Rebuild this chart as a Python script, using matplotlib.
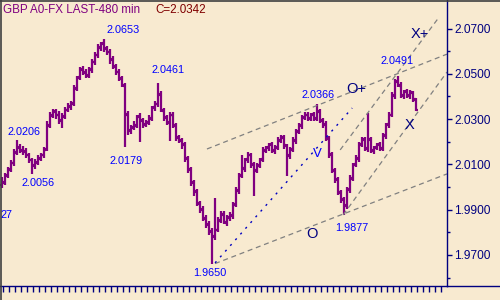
#!/usr/bin/env python3
# -*- coding: utf-8 -*-
"""
plot.py - GBP 480 minute bar chart with channel lines and wave labels
"""
import matplotlib
matplotlib.use("Agg")
import matplotlib.pyplot as plt
from matplotlib.collections import LineCollection
from matplotlib.lines import Line2D
import numpy as np

# ---------------------------------------------------------------- data
opens = [
    2.0010, 2.0020, 2.0052, 2.0078, 2.0104, 2.0150, 2.0178, 2.0160, 2.0158, 2.0140,
    2.0120, 2.0094, 2.0110, 2.0125, 2.0140, 2.0168, 2.0270, 2.0315, 2.0335, 2.0320,
    2.0292, 2.0310, 2.0342, 2.0355, 2.0370, 2.0435, 2.0485, 2.0520, 2.0505, 2.0492,
    2.0520, 2.0550, 2.0585, 2.0615, 2.0636, 2.0610, 2.0598, 2.0565, 2.0530, 2.0510,
    2.0478, 2.0448, 2.0322, 2.0248, 2.0265, 2.0270, 2.0312, 2.0292, 2.0278, 2.0284,
    2.0302, 2.0352, 2.0365, 2.0410, 2.0338, 2.0308, 2.0284, 2.0320, 2.0270, 2.0220,
    2.0205, 2.0190, 2.0125, 2.0078, 2.0020, 1.9982, 1.9926, 1.9902, 1.9860, 1.9835,
    1.9806, 1.9780, 1.9812, 1.9852, 1.9880, 1.9842, 1.9866, 1.9874, 1.9925, 1.9984,
    2.0052, 2.0080, 2.0122, 2.0140, 2.0100, 2.0072, 2.0094, 2.0122, 2.0160, 2.0176,
    2.0190, 2.0160, 2.0176, 2.0205, 2.0220, 2.0182, 2.0138, 2.0168, 2.0204, 2.0246,
    2.0270, 2.0308, 2.0320, 2.0302, 2.0322, 2.0302, 2.0335, 2.0292, 2.0278, 2.0214,
    2.0146, 2.0072, 2.0034, 1.9975, 1.9946, 1.9918, 1.9990, 2.0036, 2.0100, 2.0124,
    2.0190, 2.0212, 2.0170, 2.0212, 2.0160, 2.0176, 2.0190, 2.0170, 2.0226, 2.0278,
    2.0320, 2.0402, 2.0468, 2.0448, 2.0402, 2.0422, 2.0402, 2.0416, 2.0388,
]
highs = [
    2.0045, 2.0062, 2.0088, 2.0120, 2.0170, 2.0206, 2.0190, 2.0180, 2.0172, 2.0152,
    2.0130, 2.0122, 2.0140, 2.0150, 2.0178, 2.0290, 2.0330, 2.0345, 2.0345, 2.0335,
    2.0325, 2.0352, 2.0372, 2.0380, 2.0450, 2.0492, 2.0530, 2.0535, 2.0520, 2.0528,
    2.0565, 2.0598, 2.0630, 2.0640, 2.0653, 2.0625, 2.0610, 2.0578, 2.0545, 2.0522,
    2.0492, 2.0460, 2.0335, 2.0275, 2.0290, 2.0320, 2.0325, 2.0305, 2.0298, 2.0318,
    2.0360, 2.0378, 2.0461, 2.0425, 2.0350, 2.0318, 2.0330, 2.0332, 2.0285, 2.0232,
    2.0215, 2.0198, 2.0138, 2.0090, 2.0032, 1.9992, 1.9940, 1.9915, 1.9875, 1.9848,
    1.9820, 1.9952, 1.9868, 1.9892, 1.9895, 1.9876, 1.9890, 1.9932, 1.9998, 2.0062,
    2.0142, 2.0130, 2.0155, 2.0150, 2.0112, 2.0108, 2.0128, 2.0176, 2.0182, 2.0196,
    2.0200, 2.0185, 2.0220, 2.0230, 2.0230, 2.0190, 2.0175, 2.0220, 2.0255, 2.0285,
    2.0318, 2.0330, 2.0332, 2.0328, 2.0330, 2.0366, 2.0345, 2.0305, 2.0290, 2.0225,
    2.0155, 2.0085, 2.0045, 1.9985, 1.9955, 1.9998, 2.0052, 2.0108, 2.0140, 2.0198,
    2.0222, 2.0220, 2.0327, 2.0220, 2.0182, 2.0195, 2.0200, 2.0240, 2.0285, 2.0330,
    2.0418, 2.0478, 2.0491, 2.0465, 2.0430, 2.0432, 2.0430, 2.0425, 2.0395,
]
lows = [
    1.9995, 2.0008, 2.0040, 2.0068, 2.0095, 2.0140, 2.0150, 2.0140, 2.0128, 2.0105,
    2.0056, 2.0080, 2.0098, 2.0115, 2.0130, 2.0160, 2.0260, 2.0305, 2.0300, 2.0280,
    2.0260, 2.0300, 2.0330, 2.0342, 2.0360, 2.0425, 2.0472, 2.0495, 2.0480, 2.0482,
    2.0505, 2.0538, 2.0572, 2.0600, 2.0598, 2.0582, 2.0545, 2.0520, 2.0495, 2.0470,
    2.0440, 2.0179, 2.0230, 2.0235, 2.0250, 2.0260, 2.0199, 2.0262, 2.0265, 2.0275,
    2.0290, 2.0338, 2.0355, 2.0330, 2.0290, 2.0275, 2.0205, 2.0262, 2.0205, 2.0195,
    2.0170, 2.0112, 2.0062, 2.0005, 1.9962, 1.9915, 1.9885, 1.9850, 1.9820, 1.9790,
    1.9658, 1.9765, 1.9800, 1.9840, 1.9835, 1.9830, 1.9852, 1.9860, 1.9910, 1.9970,
    2.0040, 2.0068, 2.0108, 2.0085, 1.9960, 2.0060, 2.0082, 2.0110, 2.0150, 2.0160,
    2.0150, 2.0148, 2.0162, 2.0195, 2.0170, 2.0050, 2.0125, 2.0155, 2.0190, 2.0235,
    2.0258, 2.0295, 2.0290, 2.0290, 2.0292, 2.0290, 2.0282, 2.0260, 2.0205, 2.0130,
    2.0060, 2.0018, 1.9965, 1.9930, 1.9877, 1.9905, 1.9975, 2.0025, 2.0088, 2.0112,
    2.0175, 2.0160, 2.0155, 2.0150, 2.0148, 2.0162, 2.0160, 2.0158, 2.0212, 2.0262,
    2.0310, 2.0390, 2.0440, 2.0395, 2.0390, 2.0392, 2.0390, 2.0375, 2.0335,
]
closes = [
    2.0022, 2.0049, 2.0075, 2.0106, 2.0155, 2.0173, 2.0164, 2.0155, 2.0142, 2.0119,
    2.0097, 2.0106, 2.0128, 2.0142, 2.0164, 2.0274, 2.0318, 2.0331, 2.0318, 2.0296,
    2.0314, 2.0340, 2.0358, 2.0367, 2.0437, 2.0481, 2.0517, 2.0508, 2.0495, 2.0517,
    2.0552, 2.0583, 2.0618, 2.0632, 2.0614, 2.0596, 2.0561, 2.0534, 2.0508, 2.0481,
    2.0451, 2.0318, 2.0252, 2.0261, 2.0274, 2.0309, 2.0296, 2.0274, 2.0287, 2.0305,
    2.0349, 2.0367, 2.0406, 2.0340, 2.0305, 2.0287, 2.0318, 2.0274, 2.0217, 2.0208,
    2.0186, 2.0128, 2.0075, 2.0022, 1.9978, 1.9930, 1.9899, 1.9863, 1.9832, 1.9802,
    1.9784, 1.9810, 1.9855, 1.9877, 1.9846, 1.9863, 1.9877, 1.9921, 1.9987, 2.0049,
    2.0084, 2.0119, 2.0142, 2.0097, 2.0075, 2.0097, 2.0119, 2.0164, 2.0173, 2.0186,
    2.0164, 2.0173, 2.0208, 2.0217, 2.0186, 2.0142, 2.0164, 2.0208, 2.0243, 2.0274,
    2.0305, 2.0318, 2.0305, 2.0318, 2.0305, 2.0331, 2.0296, 2.0274, 2.0217, 2.0142,
    2.0075, 2.0031, 1.9978, 1.9943, 1.9921, 1.9987, 2.0040, 2.0097, 2.0128, 2.0186,
    2.0208, 2.0173, 2.0208, 2.0164, 2.0173, 2.0186, 2.0173, 2.0230, 2.0274, 2.0318,
    2.0406, 2.0464, 2.0451, 2.0406, 2.0419, 2.0406, 2.0419, 2.0384, 2.0342,
]

# trend lines: (bar index, price) end points
channel_upper = [(68.3, 2.0168), (148.3, 2.0587)]
channel_lower = [(71.0, 1.9662), (148.3, 2.0058)]
steep_upper = [(112.7, 2.0164), (145.7, 2.0751)]
steep_lower = [(113.7, 1.9877), (148.3, 2.0508)]
blue_line = [(71.0, 1.9665), (116.7, 2.0349)]

# extreme labels: text, bar index, baseline price
price_labels = [
    ("2.0653", 40.5, 2.0679), ("2.0461", 55.2, 2.0502),
    ("2.0206", 7.2, 2.0230), ("2.0056", 11.9, 2.0005),
    ("2.0179", 41.4, 2.0100), ("1.9650", 69.2, 1.9607),
    ("2.0366", 105.3, 2.0394), ("2.0491", 131.7, 2.0542),
    ("1.9877", 116.7, 1.9806),
]
wave_labels = [
    ("X+", 139.3, 2.0659), ("O+", 118.2, 2.0417),
    ("X", 135.9, 2.0255), ("O", 103.2, 1.9776),
]

y_major = [1.97, 1.99, 2.01, 2.03, 2.05, 2.07]
y_minor = [1.96, 1.98, 2.00, 2.02, 2.04, 2.06]

BG = "#F8EAD0"
NAVY = "#000080"
PURPLE = "#800080"
BLUE = "#0000FF"
FONT = "Liberation Sans"


def draw_bars(ax):
    """open-high-low-close bars"""
    segs = []
    for i, (o, h, l, c) in enumerate(zip(opens, highs, lows, closes)):
        segs.append([(i, l), (i, h)])
        segs.append([(i - 0.7, o), (i, o)])
        segs.append([(i, c), (i + 0.7, c)])
    ax.add_collection(LineCollection(segs, colors=PURPLE, linewidths=1.6,
                                     capstyle="butt"))


def draw_lines(ax):
    """channel lines and the blue dotted line"""
    for pts in (channel_upper, channel_lower, steep_upper, steep_lower):
        xs, ys = zip(*pts)
        ax.plot(xs, ys, color="#808080", lw=0.9, dashes=(4, 3))
    xs, ys = zip(*blue_line)
    ax.plot(xs, ys, color="#0000C0", lw=1.0, dashes=(1.5, 4))


fig = plt.figure(figsize=(5, 3), dpi=100, facecolor=BG)
ax = fig.add_axes([0, 14 / 300, 447 / 500, 286 / 300], facecolor=BG)

draw_bars(ax)
draw_lines(ax)

ax.set_xlim(-0.67, 148.3)
ax.set_ylim(1.9563, 2.0826)

for side in ("top", "left"):
    ax.spines[side].set_visible(False)
ax.spines["right"].set_color(NAVY)
ax.spines["bottom"].set_color(NAVY)
ax.spines["right"].set_linewidth(1.0)
ax.spines["bottom"].set_linewidth(1.0)

ax.yaxis.tick_right()
ax.set_yticks(y_major)
ax.set_yticklabels(["%.4f" % v for v in y_major])
ax.set_yticks(y_minor, minor=True)
ax.tick_params(axis="y", which="major", length=3.6, width=1, color=NAVY,
               labelcolor=NAVY, labelsize=8.6, pad=1.5)
ax.tick_params(axis="y", which="minor", length=2.2, width=1, color=NAVY)
for lab in ax.get_yticklabels():
    lab.set_fontfamily(FONT)

ax.set_xticks(np.arange(0.25, 146.5, 2))
ax.tick_params(axis="x", length=4.3, width=1, color=NAVY, labelbottom=False)

for txt, xi, yp in price_labels:
    ax.text(xi, yp, txt, color=BLUE, fontsize=7.8, family=FONT,
            ha="center", va="baseline")
ax.text(-0.4, 1.9862, "27", color=BLUE, fontsize=7.8, family=FONT,
        ha="left", va="baseline")
for txt, xi, yp in wave_labels:
    ax.text(xi, yp, txt, color=NAVY, fontsize=10.5, family=FONT,
            ha="center", va="baseline")
ax.text(105.2, 2.0131, "V", color=BLUE, fontsize=9.5, family=FONT,
        ha="center", va="baseline")

# title
fig.text(3 / 500, 1 - 13 / 300, "GBP A0-FX LAST-480 min", color=PURPLE,
         fontsize=8.4, family=FONT, va="baseline")
fig.text(155 / 500, 1 - 13 / 300, "C=2.0342", color="#800000",
         fontsize=8.4, family=FONT, va="baseline")

# frame: grey top/left edge, navy bottom line across the full width
fig.add_artist(Line2D([0, 1], [1 - 0.5 / 300] * 2, color="#404040", lw=1.2))
fig.add_artist(Line2D([0.5 / 500] * 2, [0, 1], color="#404040", lw=1.2))
fig.add_artist(Line2D([447 / 500, 1], [14 / 300] * 2, color=NAVY, lw=1.0))

fig.savefig("out.png", dpi=100, facecolor=BG)
